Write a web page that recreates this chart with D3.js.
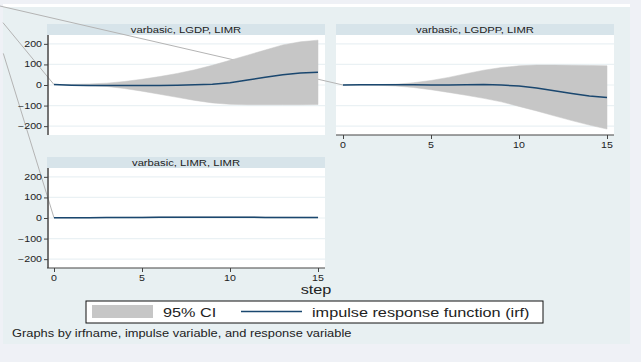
<!DOCTYPE html>
<html>
<head>
<meta charset="utf-8">
<script src="https://cdn.jsdelivr.net/npm/d3@7"></script>
<style>
  body { margin: 0; background: #eff1f6; }
  svg { display: block; }
  text { font-family: "Liberation Sans", Arial, sans-serif; fill: #222; }
</style>
</head>
<body>
<svg></svg>
<script>
// impulse response data
const steps = [0, 1, 2, 3, 4, 5, 6, 7, 8, 9, 10, 11, 12, 13, 14, 15];

const irfLGDP = [2, -1, -3, -3, -3, -2, -2, -1, 1, 4, 11, 24, 38, 50, 58, 62];
const hiLGDP = [2, 3, 5, 9, 17, 28, 41, 56, 74, 96, 120, 145, 170, 195, 210, 218];
const loLGDP = [2, -2, -4, -7, -17, -30, -45, -60, -75, -87, -94, -96, -96, -96, -96, -95];

const irfLGDPP = [0, 1, 1, 1, 1, 0, 0, 1, 2, 0, -5, -15, -28, -41, -53, -61];
const hiLGDPP = [0, 1, 2, 4, 11, 22, 37, 55, 72, 85, 93, 97, 97, 96, 95, 93];
const loLGDPP = [0, 0, -1, -5, -12, -23, -36, -50, -65, -82, -104, -126, -150, -173, -195, -214];

const irfLIMR = [1, 1, 1.5, 2, 2.5, 3, 3.5, 3.5, 4, 4, 4, 3.5, 3, 2.5, 2, 2];
const hiLIMR = [1, 1.5, 2.5, 3, 4, 5, 5.5, 6, 6.5, 6.5, 6.5, 6, 5, 4.5, 4, 3.5];
const loLIMR = [1, 0.5, 0.5, 1, 1, 1.5, 1.5, 1.5, 1.5, 1.5, 1.5, 1, 1, 0.5, 0.5, 0];

// stray connector lines in the picture: start point (step, value) outside each panel
const leadLGDP = [-2.9, 303];
const leadLGDPP = [-19.5, 384];
const leadLIMR = [-2.88, 800];

const yTicks = [-200, -100, 0, 100, 200];
const xTicks = [0, 5, 10, 15];
const titles = ["varbasic, LGDP, LIMR", "varbasic, LGDPP, LIMR", "varbasic, LIMR, LIMR"];
const legendLabels = ["95% CI", "impulse response function (irf)"];
const note = "Graphs by irfname, impulse variable, and response variable";

const width = 641;
const height = 362;
const SX = 1.25; // text in the picture is stretched sideways

const navy = "#1a476f";
const ciGray = "#c6c6c6";

let svg = d3.select("svg").attr("width", width).attr("height", height);

// graph region
svg.append("rect").attr("x", 3).attr("y", 4).attr("width", 627).attr("height", 3).attr("fill", "#fff");
svg.append("rect").attr("x", 3).attr("y", 7).attr("width", 627).attr("height", 337).attr("fill", "#e8f0f2");

const addText = (g, str, x, y, size, anchor) => {
  g.append("text")
    .attr("transform", "translate(" + x + "," + y + ") scale(" + SX + ",1)")
    .attr("text-anchor", anchor)
    .style("font-size", size + "px")
    .text(str);
};

const panels = [
  { left: 47, top: 24, irf: irfLGDP, hi: hiLGDP, lo: loLGDP, lead: leadLGDP, title: titles[0], yAxis: true, xAxis: false },
  { left: 336, top: 24, irf: irfLGDPP, hi: hiLGDPP, lo: loLGDPP, lead: leadLGDPP, title: titles[1], yAxis: false, xAxis: true },
  { left: 47, top: 157, irf: irfLIMR, hi: hiLIMR, lo: loLIMR, lead: leadLIMR, title: titles[2], yAxis: true, xAxis: true },
];

const pw = 278; // panel width
const stripH = 11;
const ph = 100; // plot height

const layers = { plot: svg.append("g"), lead: svg.append("g"), marks: svg.append("g"), axes: svg.append("g") };

panels.forEach((p) => {
  const plotTop = p.top + stripH;
  const x = d3.scaleLinear().domain([0, 15]).range([p.left + 7, p.left + pw - 7]);
  const y = d3.scaleLinear().domain([-243, 243]).range([plotTop + ph, plotTop]);

  // strip + plot background
  layers.plot.append("rect").attr("x", p.left).attr("y", p.top).attr("width", pw).attr("height", stripH).attr("fill", "#d7e4ea");
  layers.plot.append("rect").attr("x", p.left).attr("y", plotTop).attr("width", pw).attr("height", ph).attr("fill", "#fff");
  addText(layers.plot, p.title, p.left + pw / 2, p.top + 8.8, 9, "middle");

  // gridlines
  layers.plot.selectAll(null).data(yTicks).enter().append("line")
    .attr("x1", p.left).attr("x2", p.left + pw)
    .attr("y1", (d) => y(d)).attr("y2", (d) => y(d))
    .attr("stroke", "#eaf1f4").attr("stroke-width", 1.2);

  // CI band and irf line
  const data = steps.map((s, i) => ({ s: s, v: p.irf[i], hi: p.hi[i], lo: p.lo[i] }));
  layers.marks.append("path").datum(data)
    .attr("d", d3.area().x((d) => x(d.s)).y0((d) => y(d.lo)).y1((d) => y(d.hi)))
    .attr("fill", ciGray).attr("stroke", ciGray).attr("stroke-width", 0.5);
  layers.marks.append("path").datum(data)
    .attr("d", d3.line().x((d) => x(d.s)).y((d) => y(d.v)))
    .attr("fill", "none").attr("stroke", navy).attr("stroke-width", 1.5);

  // stray connector line
  layers.lead.append("line")
    .attr("x1", x(p.lead[0])).attr("y1", y(p.lead[1]))
    .attr("x2", x(0)).attr("y2", y(p.irf[0]))
    .attr("stroke", "#b4b4b4").attr("stroke-width", 1);

  if (p.yAxis) {
    const ya = layers.axes.append("g").attr("transform", "translate(" + (p.left + 1) + ",0)")
      .call(d3.axisLeft(y).tickValues(yTicks).tickSize(4).tickPadding(2).tickFormat(d3.format("d")));
    ya.select(".domain").attr("d", "M0," + plotTop + "V" + (plotTop + ph)).attr("stroke", "#444").attr("stroke-width", 1.5);
    ya.selectAll(".tick line").attr("stroke", "#444");
    ya.selectAll(".tick text").remove();
    yTicks.forEach((t) => addText(ya, d3.format("d")(t), -6, y(t) + 3, 8.5, "end"));
  }
  if (p.xAxis) {
    const xa = layers.axes.append("g").attr("transform", "translate(0," + (plotTop + ph) + ")")
      .call(d3.axisBottom(x).tickValues(xTicks).tickSize(4));
    xa.select(".domain").attr("d", "M" + p.left + ",0H" + (p.left + pw)).attr("stroke", "#444").attr("stroke-width", 1.2);
    xa.selectAll(".tick line").attr("stroke", "#444");
    xa.selectAll(".tick text").remove();
    xTicks.forEach((t) => addText(xa, String(t), x(t), 12.5, 8.5, "middle"));
  }
});

// x axis title
addText(svg, "step", 316, 294, 13, "middle");

// legend
const lg = svg.append("g");
lg.append("rect").attr("x", 86).attr("y", 301).attr("width", 457).attr("height", 22).attr("fill", "#fff").attr("stroke", "#111").attr("stroke-width", 1);
lg.append("rect").attr("x", 92).attr("y", 305).attr("width", 61).attr("height", 13).attr("fill", ciGray);
addText(lg, legendLabels[0], 163, 316.5, 13, "start");
lg.append("line").attr("x1", 241).attr("x2", 302).attr("y1", 311.5).attr("y2", 311.5).attr("stroke", navy).attr("stroke-width", 1.5);
addText(lg, legendLabels[1], 312, 316.5, 13, "start");

// note
addText(svg, note, 12, 336.5, 10.3, "start");
</script>
</body>
</html>
